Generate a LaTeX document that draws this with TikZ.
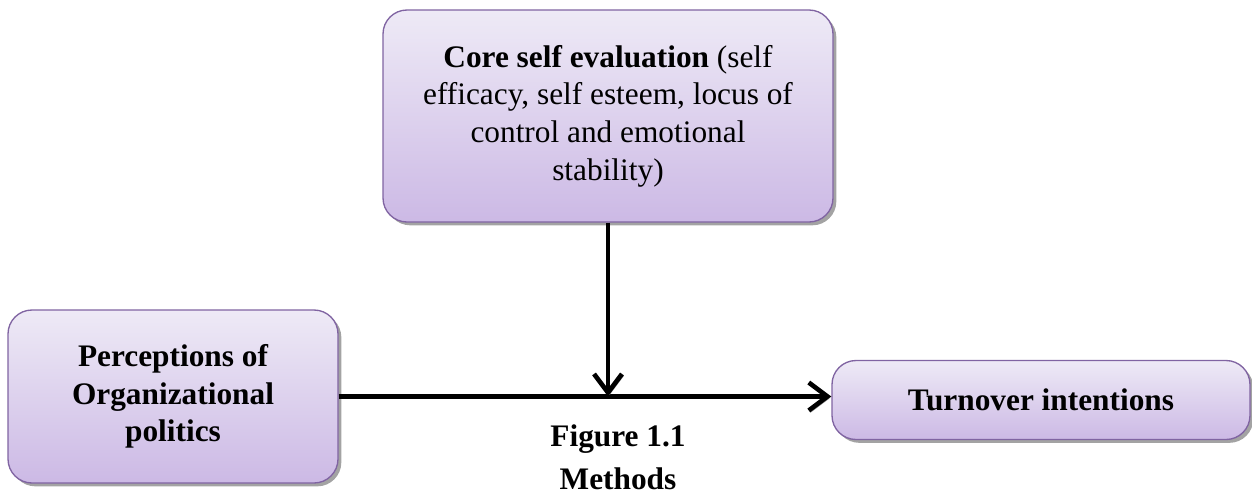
\documentclass[tikz,border=0pt]{standalone}
\usepackage{fontspec}
\setmainfont{Liberation Serif}
\usetikzlibrary{arrows.meta,shadows}
\definecolor{boxtop}{HTML}{EEEAF6}
\definecolor{boxbottom}{HTML}{CCB9E5}
\definecolor{boxline}{HTML}{8064A2}
\begin{document}
\begin{tikzpicture}[x=0.75pt, y=-0.75pt, >={Straight Barb[length=14pt,width=21pt]}]
	\tikzset{
		every box/.style={rounded corners=18pt, draw=boxline, line width=1pt,
			top color=boxtop, bottom color=boxbottom, align=center,
			font=\fontsize{23.5}{28.3}\selectfont, inner sep=4pt,
			drop shadow={shadow xshift=2.5pt, shadow yshift=-2.5pt, fill=black!45, opacity=0.8}},
		link/.style={->, line width=3.5pt,
			preaction={draw=black!35, transform canvas={xshift=1.2pt, yshift=-1.5pt}}}
	}
	\useasboundingbox (0,0) rectangle (1252,497);

	\node [every box, minimum width=337.5pt, minimum height=159pt] (core) at (608,116)
		{\textbf{Core self evaluation} (self\\efficacy, self esteem, locus of\\control and emotional\\stability)};
	\node [every box, minimum width=247.5pt, minimum height=129.75pt, font=\fontsize{23.5}{28.3}\selectfont\bfseries] (politics) at (173,396.5)
		{Perceptions of\\Organizational\\politics};
	\node [every box, minimum width=313.5pt, minimum height=59.25pt, font=\fontsize{23.5}{28.3}\selectfont\bfseries] (turnover) at (1041,400)
		{Turnover intentions};

	\coordinate (meet) at (core.south |- politics.east);
	\draw [link] (politics.east) -- (politics.east -| turnover.west);
	\draw [link] (core.south) -- (meet);

	\node [font=\fontsize{23.5}{28.3}\selectfont\bfseries] (fig) at (618,439) {Figure 1.1};
	\node [font=\fontsize{23.5}{28.3}\selectfont\bfseries] (methods) at (618,479) {Methods};
\end{tikzpicture}
\end{document}
